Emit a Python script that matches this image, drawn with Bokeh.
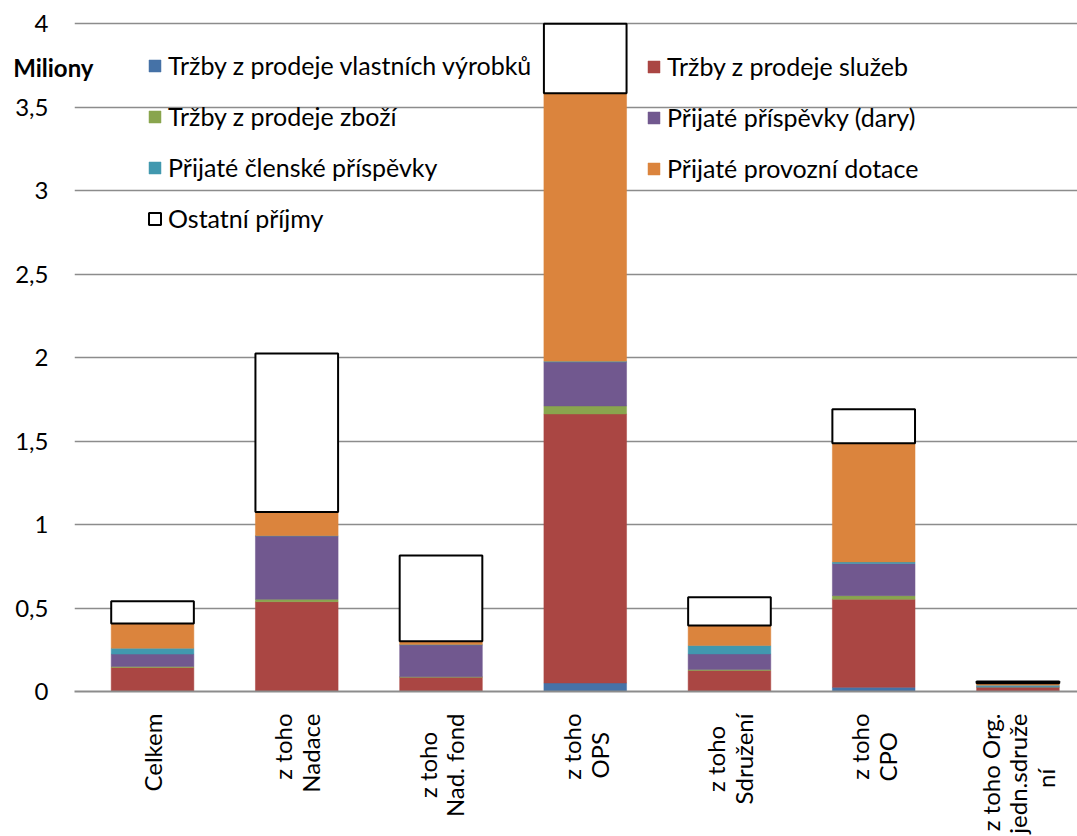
import math
from bokeh.plotting import figure
from bokeh.models import (Range1d, FixedTicker, Legend, LegendItem, LinearAxis,
                          ColumnDataSource)
from bokeh.embed import file_html
from bokeh.resources import INLINE

# ---- data (millions CZK) ----
categories = ["Celkem", "z toho\nNadace", "z toho\nNad. fond", "z toho\nOPS",
              "z toho\nSdružení", "z toho\nCPO", "z toho Org.\njedn.sdruže\nní"]
series_names = ["Tržby z prodeje vlastních výrobků", "Tržby z prodeje služeb",
                "Tržby z prodeje zboží", "Přijaté příspěvky (dary)",
                "Přijaté členské příspěvky", "Přijaté provozní dotace", "Ostatní příjmy"]
vyrobky = [0.003, 0.003, 0.001, 0.051, 0.003, 0.025, 0.002]
sluzby = [0.141, 0.535, 0.085, 1.611, 0.123, 0.528, 0.022]
zbozi = [0.006, 0.014, 0.002, 0.048, 0.005, 0.021, 0.002]
dary = [0.074, 0.379, 0.191, 0.263, 0.094, 0.192, 0.004]
clenske = [0.035, 0.002, 0.002, 0.005, 0.050, 0.010, 0.008]
dotace = [0.148, 0.142, 0.020, 1.605, 0.120, 0.710, 0.012]
ostatni = [0.134, 0.949, 0.513, 0.415, 0.170, 0.204, 0.010]
y_ticks = [0, 0.5, 1, 1.5, 2, 2.5, 3, 3.5, 4]
y_tick_labels = ["0", "0,5", "1", "1,5", "2", "2,5", "3", "3,5", "4"]
unit_label = "Miliony"

colors = ["#4572A7", "#AA4643", "#89A54E", "#71588F", "#4198AF", "#DB843D", "white"]
line_colors = ["#4572A7", "#AA4643", "#89A54E", "#71588F", "#4198AF", "#DB843D", "black"]
line_widths = [0.5, 0.5, 0.5, 0.5, 0.5, 0.5, 2]

keys = ["vyrobky", "sluzby", "zbozi", "dary", "clenske", "dotace", "ostatni"]
x_pos = list(range(len(categories)))
source = ColumnDataSource(data=dict(x=x_pos, vyrobky=vyrobky, sluzby=sluzby, zbozi=zbozi,
                                    dary=dary, clenske=clenske, dotace=dotace, ostatni=ostatni))

FONT = "Lato"
FS = "24px"

p = figure(width=1077, height=836, output_backend="svg", toolbar_location=None,
           x_range=Range1d(-0.541, 6.413), y_range=Range1d(0, 4.03),
           min_border_left=74, min_border_right=0, min_border_top=18, min_border_bottom=142)
p.outline_line_color = None
p.background_fill_color = "white"

renderers = p.vbar_stack(keys, x="x", width=0.573, source=source,
                         fill_color=colors, line_color=line_colors, line_width=line_widths)

# grid
p.xgrid.grid_line_color = None
p.ygrid.grid_line_color = "#8c8c8c"
p.ygrid.grid_line_width = 1.5
p.ygrid.ticker = FixedTicker(ticks=y_ticks)

# y axis
yax = p.yaxis[0]
yax.ticker = FixedTicker(ticks=y_ticks)
yax.major_label_overrides = {t: l for t, l in zip(y_ticks, y_tick_labels)}
yax.axis_line_color = None
yax.major_tick_line_color = None
yax.minor_tick_line_color = None
yax.major_label_standoff = 20
yax.major_label_text_font = FONT
yax.major_label_text_font_size = FS
yax.major_label_text_color = "black"

# x axis (multi-line category labels, lines centred with no-break spaces)
def centre_lines(label):
    lines = label.split("\n")
    n = max(len(s) for s in lines)
    return "\n".join(s + "\u00a0" * int(round((n - len(s)) * 0.95)) for s in lines)

xax = p.xaxis[0]
xax.ticker = FixedTicker(ticks=x_pos)
xax.major_label_overrides = {i: centre_lines(c) for i, c in zip(x_pos, categories)}
xax.major_label_orientation = math.pi / 2
xax.axis_line_color = "#8c8c8c"
xax.axis_line_width = 2
xax.major_tick_line_color = None
xax.minor_tick_line_color = None
xax.major_label_standoff = 16
xax.major_label_text_font = FONT
xax.major_label_text_font_size = FS
xax.major_label_text_color = "black"
xax.major_label_text_line_height = 0.96

# unit label "Miliony": title of a tickless axis in the left panel, lifted to the
# top by trailing blank lines (the title is centred on the frame height)
unit_axis = LinearAxis(ticker=FixedTicker(ticks=[]),
                       axis_label=unit_label + "\n\u00a0" * 20,
                       axis_label_orientation="horizontal",
                       axis_label_standoff=-81,
                       axis_label_text_font=FONT, axis_label_text_font_size=FS,
                       axis_label_text_line_height=0.99,
                       axis_label_text_font_style="bold", axis_label_text_color="black",
                       axis_line_color=None, major_tick_line_color=None,
                       minor_tick_line_color=None, major_tick_out=0, major_tick_in=0,
                       minor_tick_out=0, minor_tick_in=0)
p.add_layout(unit_axis, "left")

# legends (two columns)
def make_legend(idx, loc):
    items = [LegendItem(label=series_names[i], renderers=[renderers[i]]) for i in idx]
    return Legend(items=items, location=loc, padding=0, margin=0,
                  border_line_color=None, background_fill_alpha=0,
                  glyph_width=15, glyph_height=15, label_standoff=6,
                  label_height=20, spacing=21,
                  label_text_font=FONT, label_text_font_size="25px", label_text_color="black")

p.add_layout(make_legend([0, 2, 4, 6], (73, 458)))
p.add_layout(make_legend([1, 3, 5], (572, 508)))

open("out.html", "w").write(file_html(p, INLINE))
